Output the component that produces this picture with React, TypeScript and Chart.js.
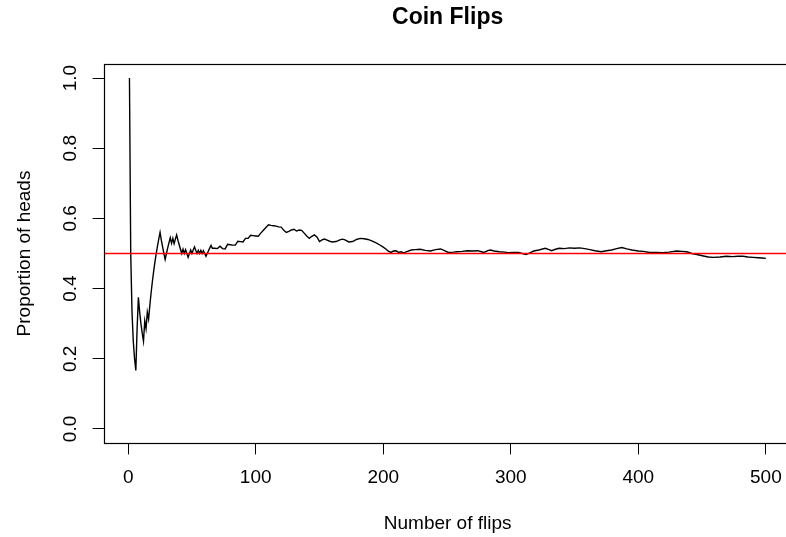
import React, { useEffect, useRef } from "react";
import { Chart, registerables } from "chart.js";

Chart.register(...registerables);

const TITLE = "Coin Flips";
const X_LABEL = "Number of flips";
const Y_LABEL = "Proportion of heads";
const X_TICKS = [0, 100, 200, 300, 400, 500];
const Y_TICKS = [0, 0.2, 0.4, 0.6, 0.8, 1.0];
const REFERENCE = 0.5;

const FLIPS = [
  1, 2, 3, 4, 5, 6, 7, 8, 9, 10, 11, 12, 13, 14, 15, 16, 17, 18, 19, 20,
  21, 22, 23, 24, 25, 26, 27, 28, 29, 30, 31, 32, 33, 34, 35, 36, 37, 38, 39, 40,
  41, 42, 43, 44, 45, 46, 47, 48, 49, 50, 51, 52, 53, 54, 55, 56, 57, 58, 59, 60,
  61, 62, 63, 64, 65,
  66, 68, 70, 72, 74, 76, 78, 80, 82, 84, 86, 88, 90, 92, 94, 96, 98, 100,
  102, 104, 106, 108, 110, 112, 114, 116, 118, 120, 122, 124, 126, 128, 130,
  132, 134, 136, 138, 140, 142, 144, 146, 148, 150, 152, 154, 156, 158, 160,
  163, 166, 168, 170, 173, 176, 179, 182, 185, 188, 191, 194, 197, 200,
  202, 204, 206, 208, 210, 212, 214, 216, 219, 222, 225, 229, 233, 237, 241,
  245, 248, 251, 255, 258, 262, 266, 270, 274, 277, 279, 282, 284, 287, 291,
  295, 298, 302, 306, 309, 312, 315, 318, 322, 327, 330, 332, 335, 338, 342,
  346, 350, 354, 358, 362, 366, 371, 375, 379, 383, 387, 391, 395, 400, 404,
  409, 414, 419, 424, 430, 434, 438, 442, 446, 451, 455, 459, 464, 469, 474,
  478, 482, 486, 490, 494, 497, 500,
];

const PROPORTION = [
  1.0, 0.5, 0.333, 0.25, 0.2, 0.167, 0.286, 0.375, 0.333, 0.3, 0.273, 0.25, 0.308, 0.286, 0.333, 0.313, 0.353, 0.389, 0.421, 0.45,
  0.476, 0.5, 0.522, 0.542, 0.56, 0.538, 0.519, 0.5, 0.483, 0.5, 0.516, 0.531, 0.545, 0.529, 0.543, 0.528, 0.541, 0.553, 0.538, 0.525,
  0.512, 0.5, 0.512, 0.5, 0.511, 0.5, 0.489, 0.5, 0.51, 0.5, 0.51, 0.519, 0.509, 0.5, 0.509, 0.5, 0.509, 0.5, 0.508, 0.5,
  0.492, 0.5, 0.508, 0.516, 0.523,
  0.515, 0.515, 0.514, 0.521, 0.514, 0.513, 0.526, 0.525, 0.524, 0.524, 0.535, 0.534, 0.533, 0.543, 0.543, 0.552, 0.551, 0.55,
  0.549, 0.558, 0.566, 0.574, 0.582, 0.58, 0.579, 0.578, 0.576, 0.575, 0.566, 0.56, 0.563, 0.567, 0.569,
  0.564, 0.567, 0.566, 0.558, 0.55, 0.543, 0.549, 0.553, 0.547, 0.534, 0.539, 0.541, 0.538, 0.535, 0.533,
  0.534, 0.539, 0.541, 0.539, 0.533, 0.534, 0.54, 0.543, 0.542, 0.54, 0.536, 0.531, 0.525, 0.518,
  0.513, 0.507, 0.503, 0.507, 0.508, 0.503, 0.505, 0.502, 0.506, 0.51, 0.511, 0.512, 0.509, 0.507, 0.511,
  0.513, 0.508, 0.503, 0.504, 0.505, 0.506, 0.508, 0.507, 0.508, 0.505, 0.503, 0.508, 0.51, 0.507, 0.505,
  0.504, 0.502, 0.503, 0.503, 0.5, 0.497, 0.502, 0.507, 0.51, 0.515, 0.511, 0.508, 0.512, 0.515, 0.514,
  0.516, 0.515, 0.516, 0.514, 0.511, 0.508, 0.505, 0.508, 0.51, 0.514, 0.517, 0.513, 0.51, 0.507, 0.506,
  0.503, 0.503, 0.502, 0.504, 0.507, 0.506, 0.505, 0.5, 0.497, 0.493, 0.49, 0.489, 0.49, 0.492, 0.491,
  0.492, 0.492, 0.49, 0.489, 0.488, 0.487, 0.486,
];

const FONT = "'Liberation Sans', Arial, Helvetica, sans-serif";
const CANVAS_W = 794;
const CANVAS_H = 537;

const boxPlugin = {
  id: "rBox",
  afterDatasetsDraw(chart: any) {
    const { ctx, chartArea, scales } = chart;
    const y = Math.floor(scales.y.getPixelForValue(REFERENCE)) + 0.5;
    ctx.save();
    ctx.beginPath();
    ctx.rect(chartArea.left, chartArea.top, chartArea.right - chartArea.left, chartArea.bottom - chartArea.top);
    ctx.clip();
    ctx.strokeStyle = "#ff0000";
    ctx.lineWidth = 1.3;
    ctx.beginPath();
    ctx.moveTo(chartArea.left, y);
    ctx.lineTo(chartArea.right, y);
    ctx.stroke();
    ctx.restore();
  },
  afterDraw(chart: any) {
    const { ctx, chartArea } = chart;
    ctx.save();
    ctx.strokeStyle = "#000";
    ctx.lineWidth = 1.2;
    const l = Math.round(chartArea.left) + 0.5;
    const t = Math.round(chartArea.top) + 0.5;
    const r = Math.round(chartArea.right) - 0.5;
    const b = Math.round(chartArea.bottom) + 0.5;
    ctx.strokeRect(l, t, r - l, b - t);
    ctx.restore();
  },
};

export default function App() {
  const ref = useRef<HTMLCanvasElement | null>(null);

  useEffect(() => {
    if (!ref.current) return;
    const data = FLIPS.map((x, i) => ({ x, y: PROPORTION[i] }));
    const chart = new Chart(ref.current, {
      type: "line",
      data: {
        datasets: [
          {
            data,
            borderColor: "#000",
            borderWidth: 1.4,
            pointRadius: 0,
            tension: 0,
            fill: false,
          },
        ],
      },
      options: {
        responsive: false,
        animation: false,
        devicePixelRatio: 1,
        layout: { padding: 0 },
        plugins: {
          legend: { display: false },
          tooltip: { enabled: false },
          title: {
            display: true,
            text: TITLE,
            fullSize: false,
            color: "#000",
            font: { family: FONT, size: 23, weight: "bold", lineHeight: 1.2 },
            padding: { top: 4.2, bottom: 32.2 },
          },
        },
        scales: {
          x: {
            type: "linear",
            min: -18.96,
            max: 519.96,
            afterBuildTicks: (scale: any) => {
              scale.ticks = X_TICKS.map((v) => ({ value: v }));
            },
            afterFit: (scale: any) => {
              scale.height = 94;
            },
            grid: {
              display: true,
              drawOnChartArea: false,
              drawTicks: true,
              tickLength: 11.4,
              color: "#000",
              lineWidth: 1,
            },
            border: { display: false },
            ticks: {
              autoSkip: false,
              maxRotation: 0,
              minRotation: 0,
              padding: 12.2,
              color: "#000",
              font: { family: FONT, size: 19, lineHeight: 1.2 },
              callback: (v: any) => String(v),
            },
            title: {
              display: true,
              text: X_LABEL,
              color: "#000",
              font: { family: FONT, size: 19, lineHeight: 1.2 },
              padding: { top: 0, bottom: 1.6 },
            },
          },
          y: {
            type: "linear",
            min: -0.04,
            max: 1.04,
            afterBuildTicks: (scale: any) => {
              scale.ticks = Y_TICKS.map((v) => ({ value: v }));
            },
            afterFit: (scale: any) => {
              scale.width = 104;
            },
            grid: {
              display: true,
              drawOnChartArea: false,
              drawTicks: true,
              tickLength: 11.4,
              color: "#000",
              lineWidth: 1,
            },
            border: { display: false },
            ticks: {
              autoSkip: false,
              minRotation: 90,
              maxRotation: 90,
              crossAlign: "center",
              padding: 8.4,
              color: "#000",
              font: { family: FONT, size: 19, lineHeight: 1.2 },
              callback: (v: any) => Number(v).toFixed(1),
            },
            title: {
              display: true,
              text: Y_LABEL,
              color: "#000",
              font: { family: FONT, size: 19, lineHeight: 1.2 },
              padding: { top: 13.6, bottom: 0 },
            },
          },
        },
      },
      plugins: [boxPlugin],
    });
    return () => chart.destroy();
  }, []);

  return (
    <div
      style={{
        position: "absolute",
        left: 0,
        top: 0,
        width: 786,
        height: 537,
        overflow: "hidden",
        background: "#fff",
      }}
    >
      <canvas ref={ref} width={CANVAS_W} height={CANVAS_H} style={{ width: CANVAS_W, height: CANVAS_H, display: "block" }} />
    </div>
  );
}
